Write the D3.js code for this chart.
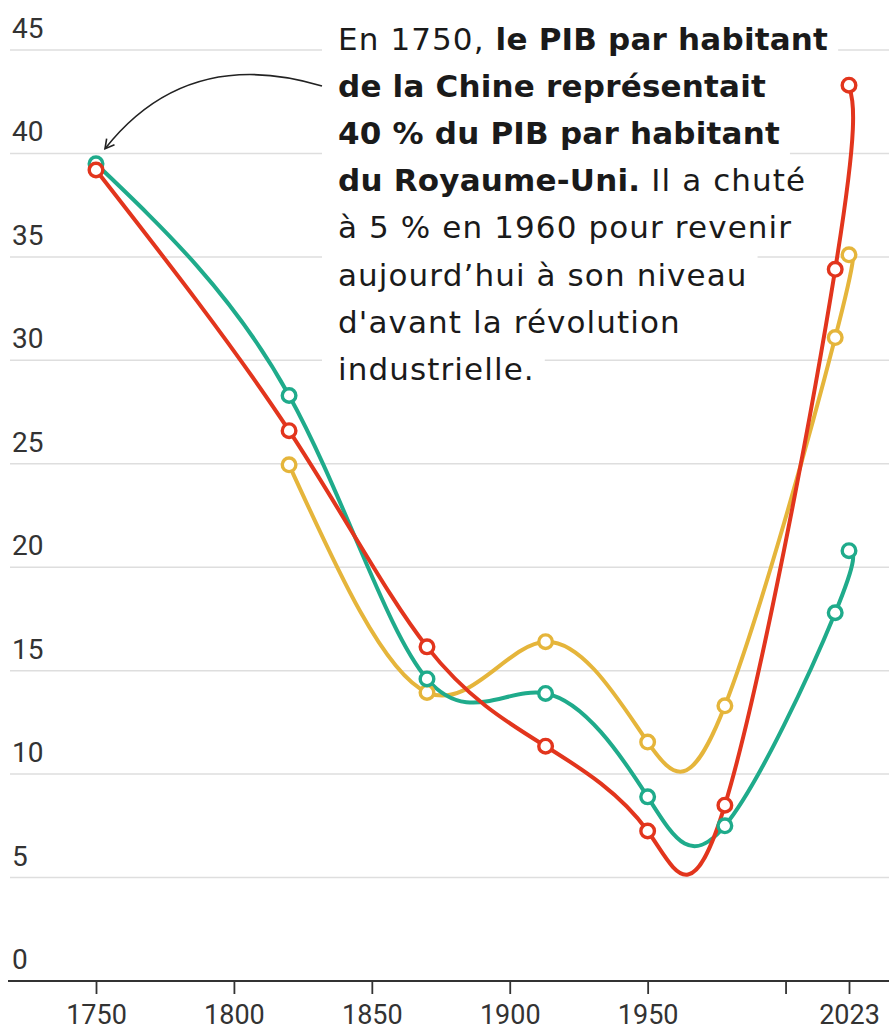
<!DOCTYPE html>
<html lang="fr">
<head>
<meta charset="utf-8">
<script src="https://cdn.jsdelivr.net/npm/d3@7"></script>
<style>
  body { margin: 0; background: #fff; }
  svg { display: block; }
  text { font-family: Roboto, "Noto Sans", sans-serif; }
</style>
</head>
<body>
<div id="chart"></div>
<script>
// data
const years = [1750, 1820, 1870, 1913, 1950, 1978, 2018, 2023];
const redValues = [39.2, 26.6, 16.15, 11.35, 7.25, 8.5, 34.4, 43.3];
const greenValues = [39.5, 28.3, 14.6, 13.9, 8.9, 7.5, 17.8, 20.8];
const yellowValues = [null, 24.95, 13.95, 16.4, 11.55, 13.3, 31.1, 35.1];

const yTicks = [0, 5, 10, 15, 20, 25, 30, 35, 40, 45];
const xTicks = [1750, 1800, 1850, 1900, 1950, 2000, 2023];
const xTickLabels = ['1750', '1800', '1850', '1900', '1950', '', '2023'];

// annotation: each line is a list of [text, bold]
const noteLines = [
  [['En 1750, ', false], ['le PIB par habitant', true]],
  [['de la Chine représentait', true]],
  [['40 % du PIB par habitant', true]],
  [['du Royaume-Uni.', true], [' Il a chuté', false]],
  [['à 5 % en 1960 pour revenir', false]],
  [['aujourd’hui à son niveau', false]],
  [['d\'avant la révolution', false]],
  [['industrielle.', false]]
];

const W = 889, H = 1032;
const margin = { top: 50, right: 40, bottom: 51, left: 96 };

const svg = d3.select('#chart').append('svg')
  .attr('width', W)
  .attr('height', H);

const x = d3.scaleLinear()
  .domain([1750, 2023])
  .range([margin.left, W - margin.right]);

const y = d3.scaleLinear()
  .domain([0, 45])
  .range([H - margin.bottom, margin.top]);

// gridlines
svg.append('g')
  .selectAll('line')
  .data(yTicks.filter(d => d > 0))
  .join('line')
    .attr('x1', 10)
    .attr('x2', W)
    .attr('y1', d => y(d))
    .attr('y2', d => y(d))
    .attr('stroke', '#dedede')
    .attr('stroke-width', 1.5);

// y labels
svg.append('g')
  .selectAll('text')
  .data(yTicks)
  .join('text')
    .attr('x', 12)
    .attr('y', d => y(d) - 12)
    .attr('fill', '#333')
    .attr('font-size', 28)
    .attr('font-weight', 400)
    .text(d => d);

// x axis
const xAxis = svg.append('g')
  .attr('transform', `translate(0,${y(0)})`)
  .call(d3.axisBottom(x)
    .tickValues(xTicks)
    .tickFormat((d, i) => xTickLabels[i])
    .tickSize(13)
    .tickPadding(11));

xAxis.select('.domain').remove();
xAxis.append('line')
  .attr('x1', 8).attr('x2', W)
  .attr('stroke', '#333').attr('stroke-width', 2.2);
xAxis.selectAll('.tick line').attr('stroke', '#333').attr('stroke-width', 1.8);
xAxis.selectAll('.tick text')
  .attr('fill', '#333')
  .attr('font-size', 27)
  .attr('font-weight', 400)
  .style('font-family', 'Roboto, sans-serif');

// annotation with white backing per line
const noteX = 338, noteY0 = 50, noteLH = 47.1;
const note = svg.append('g');
const bgLayer = note.append('g');
const txtLayer = note.append('g');

noteLines.forEach((parts, i) => {
  const t = txtLayer.append('text')
    .attr('x', noteX)
    .attr('y', noteY0 + i * noteLH)
    .attr('font-size', 31)
    .attr('fill', '#1a1a1a')
    .style('font-family', '"DejaVu Sans", sans-serif');
  parts.forEach(([s, b]) => {
    t.append('tspan')
      .attr('font-weight', b ? 700 : 400)
      .attr('letter-spacing', b ? 0.2 : 1.1)
      .text(s);
  });
  const bb = t.node().getBBox();
  bgLayer.append('rect')
    .attr('x', noteX - 16)
    .attr('y', noteY0 + i * noteLH - 35)
    .attr('width', bb.width + 26)
    .attr('height', noteLH)
    .attr('fill', '#fff');
});

// arrow from annotation to 1750 point
const ax1 = noteX - 16, ay1 = noteY0 + 36;
const ax2 = x(1750) + 9, ay2 = y(greenValues[0]) - 15;
svg.append('defs').append('marker')
  .attr('id', 'arrowhead')
  .attr('viewBox', '0 0 12 12')
  .attr('refX', 10).attr('refY', 6)
  .attr('markerWidth', 12).attr('markerHeight', 12)
  .attr('markerUnits', 'userSpaceOnUse')
  .attr('orient', 'auto')
  .append('path')
    .attr('d', 'M1,1 L10,6 L1,11')
    .attr('fill', 'none')
    .attr('stroke', '#222')
    .attr('stroke-width', 1.6);

svg.append('path')
  .attr('d', `M${ax1},${ay1} C${ax1 - 60},${ay1 - 18} ${ax2 + 70},${ay1 - 26} ${ax2},${ay2}`)
  .attr('fill', 'none')
  .attr('stroke', '#222')
  .attr('stroke-width', 1.6)
  .attr('marker-end', 'url(#arrowhead)');

// series
const series = [
  { name: 'yellow', color: '#e5b53b', values: yellowValues },
  { name: 'green', color: '#1fab8b', values: greenValues },
  { name: 'red', color: '#e2351d', values: redValues }
];

const line = d3.line()
  .defined(d => d.v != null)
  .x(d => x(d.year))
  .y(d => y(d.v))
  .curve(d3.curveNatural);

const rows = s => years.map((yr, i) => ({ year: yr, v: s.values[i] })).filter(d => d.v != null);

svg.append('g')
  .selectAll('path')
  .data(series)
  .join('path')
    .attr('d', s => line(rows(s)))
    .attr('fill', 'none')
    .attr('stroke', s => s.color)
    .attr('stroke-width', 4)
    .attr('stroke-linejoin', 'round');

series.forEach(s => {
  svg.append('g')
    .selectAll('circle')
    .data(rows(s))
    .join('circle')
      .attr('cx', d => x(d.year))
      .attr('cy', d => y(d.v))
      .attr('r', 6.8)
      .attr('fill', '#fff')
      .attr('stroke', s.color)
      .attr('stroke-width', 3.4);
});
</script>
</body>
</html>
